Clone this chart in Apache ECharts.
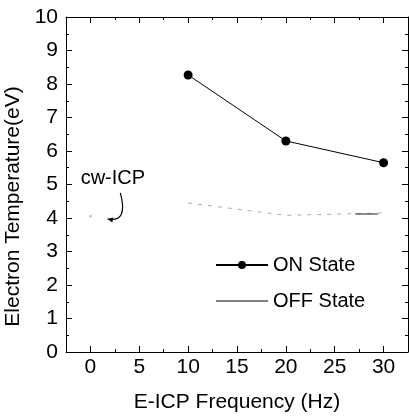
<!DOCTYPE html>
<html lang="en">
<head>
    <meta charset="UTF-8">
    <title>Electron Temperature vs E-ICP Frequency</title>
    <script src="https://cdn.jsdelivr.net/npm/echarts@6/dist/echarts.min.js"></script>
    <style>
        html, body { margin: 0; padding: 0; background: #fff; }
    </style>
</head>
<body>
    <div id="chart" style="width: 409px; height: 416px;"></div>

    <script>
        // data
        var onState = [[10, 8.27], [20, 6.3], [30, 5.65]];
        var offState = [[10, 4.45], [20, 4.08], [30, 4.15]];
        var offTail = [[27.1, 4.12], [29.4, 4.12]];
        var cwIcp = [[0, 4.05]];
        var xMajor = [0, 5, 10, 15, 20, 25, 30];
        var xMinor = [2.5, 7.5, 12.5, 17.5, 22.5, 27.5];
        // annotation text anchor and arrow (data coords): start, control, end
        var cwLabelPos = [-1.0, 5.15];
        var cwArrow = [[3.06, 4.75], [3.9, 3.85], [1.75, 3.97]];

        var font = 'Liberation Sans, Arial, sans-serif';
        var chart = echarts.init(document.getElementById('chart'));

        function xAx(pos, ticks, len, withLabels, line) {
            return {
                type: 'value', position: pos, min: -2.5, max: 32.5,
                axisLine: { show: line, onZero: false, lineStyle: { color: '#000', width: 1 } },
                axisTick: { show: true, inside: true, length: len, customValues: ticks,
                    lineStyle: { color: '#000' } },
                axisLabel: withLabels ? { show: true, customValues: ticks, fontSize: 21, color: '#000',
                    fontFamily: font, margin: 5 } : { show: false },
                splitLine: { show: false }
            };
        }
        function yAx(pos, withLabels) {
            return {
                type: 'value', position: pos, min: 0, max: 10, interval: 1,
                axisLine: { show: true, onZero: false, lineStyle: { color: '#000', width: 1 } },
                axisTick: { show: true, inside: true, length: 6, lineStyle: { color: '#000' } },
                minorTick: { show: true, splitNumber: 2, length: 3, lineStyle: { color: '#000' } },
                axisLabel: withLabels ? { show: true, fontSize: 21, color: '#000', fontFamily: font, margin: 8 } : { show: false },
                splitLine: { show: false }
            };
        }

        var xAxes = [
            xAx('bottom', xMajor, 6, true, true),
            xAx('bottom', xMinor, 3, false, false),
            xAx('top', xMajor, 6, false, true),
            xAx('top', xMinor, 3, false, false)
        ];
        xAxes[0].name = 'E-ICP Frequency (Hz)';
        xAxes[0].nameLocation = 'middle';
        xAxes[0].nameGap = 40;
        xAxes[0].nameTextStyle = { fontSize: 21, color: '#000', fontFamily: font };

        var yAxes = [yAx('left', true), yAx('right', false)];
        yAxes[0].name = 'Electron Temperature(eV)';
        yAxes[0].nameLocation = 'middle';
        yAxes[0].nameGap = 33;
        yAxes[0].nameTextStyle = { fontSize: 21, color: '#000', fontFamily: font, padding: [0, 44, 0, 0] };

        var option = {
            animation: false,
            backgroundColor: '#fff',
            grid: { left: 66, right: 1, top: 17, bottom: 64, outerBoundsMode: 'none', containLabel: false },
            legend: {
                data: ['ON State', { name: 'OFF State', icon: 'path://M0,0L50,0L50,1.4L0,1.4Z' }],
                orient: 'vertical',
                left: 210, top: 250,
                itemWidth: 52, itemHeight: 10, itemGap: 16,
                textStyle: { fontSize: 20, color: '#000', fontFamily: font }
            },
            xAxis: xAxes,
            yAxis: yAxes,
            series: [
                {
                    name: 'ON State', type: 'line', data: onState,
                    symbol: 'circle', symbolSize: 9,
                    itemStyle: { color: '#000' },
                    lineStyle: { color: '#000', width: 1 }
                },
                {
                    name: 'OFF State', type: 'line', data: offState,
                    symbol: 'none',
                    itemStyle: { color: '#555' },
                    lineStyle: { color: '#aaa', width: 1, type: [4, 6] }
                },
                {
                    name: 'offTail', type: 'line', data: offTail,
                    symbol: 'none',
                    lineStyle: { color: '#222', width: 1.2 }
                },
                {
                    name: 'cw-ICP', type: 'scatter', data: cwIcp,
                    symbol: 'circle', symbolSize: 3,
                    itemStyle: { color: '#bbb' }
                }
            ]
        };
        chart.setOption(option);

        // annotation placed through the chart's own scales
        var lp = chart.convertToPixel({ gridIndex: 0 }, cwLabelPos);
        var a = cwArrow.map(function (p) { return chart.convertToPixel({ gridIndex: 0 }, p); });
        var end = a[2], c = a[1];
        var ang = Math.atan2(end[1] - c[1], end[0] - c[0]);
        var hl = 6;
        chart.setOption({
            graphic: [
                {
                    type: 'text', x: lp[0], y: lp[1] - 11,
                    style: { text: 'cw-ICP', fontSize: 20, fill: '#000', fontFamily: font }
                },
                {
                    type: 'bezierCurve',
                    shape: { x1: a[0][0], y1: a[0][1], x2: end[0], y2: end[1], cpx1: c[0], cpy1: c[1] },
                    style: { stroke: '#000', lineWidth: 1.2, fill: null }
                },
                {
                    type: 'polygon',
                    shape: { points: [
                        [end[0], end[1]],
                        [end[0] - hl * Math.cos(ang - 0.45), end[1] - hl * Math.sin(ang - 0.45)],
                        [end[0] - hl * Math.cos(ang + 0.45), end[1] - hl * Math.sin(ang + 0.45)]
                    ] },
                    style: { fill: '#000' }
                }
            ]
        });
    </script>
</body>
</html>
